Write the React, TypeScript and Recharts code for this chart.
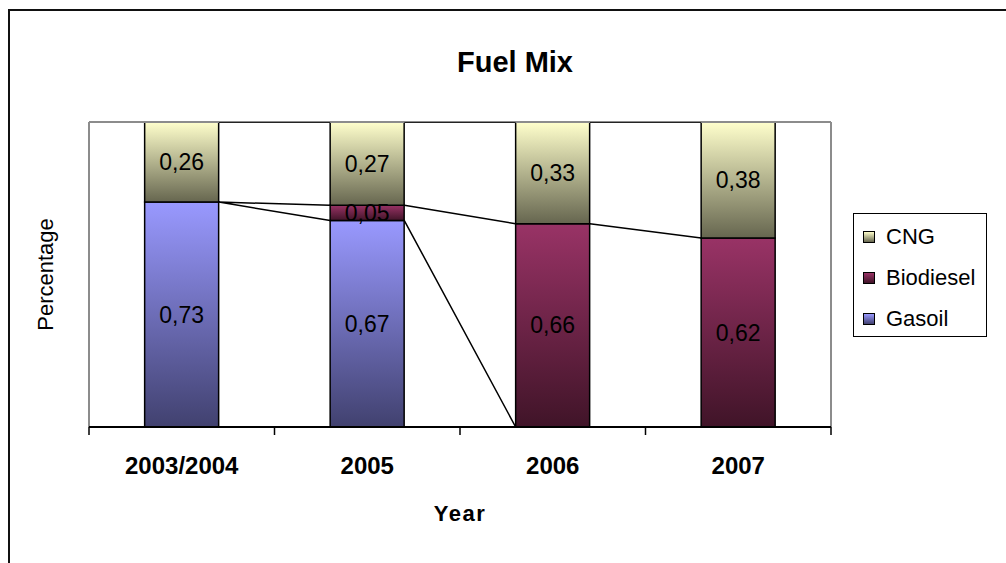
import React from 'react';
import {
  ComposedChart, Bar, Line, XAxis, YAxis, LabelList, Legend, ReferenceLine, Label,
} from 'recharts';

const YEARS = ['2003/2004', '2005', '2006', '2007'];
const GASOIL = [0.73, 0.67, 0, 0];
const BIODIESEL = [0, 0.05, 0.66, 0.62];
const CNG = [0.26, 0.27, 0.33, 0.38];

// stacked bottom-up
const SERIES = [
  { key: 'gasoil', name: 'Gasoil', values: GASOIL, top: '#9999ff', bottom: '#41416f' },
  { key: 'biodiesel', name: 'Biodiesel', values: BIODIESEL, top: '#993366', bottom: '#401428' },
  { key: 'cng', name: 'CNG', values: CNG, top: '#ffffcc', bottom: '#66664f' },
];

const data = YEARS.map((year, i) => ({
  year,
  gasoil: GASOIL[i],
  biodiesel: BIODIESEL[i],
  cng: CNG[i],
}));

// each bar takes the middle 40% of its band
const GAP = 0.3;

// series lines: top of every segment joined to the same segment of the next bar
const seriesLines: { x: number; y: number | null }[] = [];
for (let i = 0; i < YEARS.length - 1; i++) {
  const totA = SERIES.reduce((s, d) => s + d.values[i], 0);
  const totB = SERIES.reduce((s, d) => s + d.values[i + 1], 0);
  let cumA = 0;
  let cumB = 0;
  SERIES.forEach((s) => {
    cumA += s.values[i];
    cumB += s.values[i + 1];
    seriesLines.push({ x: i + 1 - GAP, y: cumA / totA });
    seriesLines.push({ x: i + 1 + GAP, y: cumB / totB });
    seriesLines.push({ x: i + 1, y: null });
  });
}

const fmt = (v: any) => (v ? Number(v).toFixed(2).replace('.', ',') : '');

// tick marks only, no text
const NoTickText = () => <g />;

function FuelLegend() {
  return (
    <div
      style={{
        width: 134,
        height: 124,
        boxSizing: 'border-box',
        border: '1.5px solid #000',
        background: '#fff',
        paddingTop: 2,
        paddingLeft: 9,
      }}
    >
      {[...SERIES].reverse().map((s) => (
        <div key={s.key} style={{ display: 'flex', alignItems: 'center', height: 41 }}>
          <span
            style={{
              width: 10,
              height: 10,
              border: '1px solid #000',
              background: `linear-gradient(${s.top}, ${s.bottom})`,
              marginRight: 11,
            }}
          />
          <span style={{ fontSize: 22, color: '#000' }}>{s.name}</span>
        </div>
      ))}
    </div>
  );
}

export default function App() {
  return (
    <div
      style={{
        position: 'fixed',
        left: 0,
        top: 0,
        width: 1006,
        height: 563,
        overflow: 'hidden',
        background: '#fff',
        fontFamily: '"Liberation Sans", Arial, sans-serif',
      }}
    >
      <div
        style={{
          position: 'absolute',
          left: 8,
          top: 9,
          width: 1200,
          height: 800,
          borderLeft: '2px solid #111',
          borderTop: '2px solid #111',
        }}
      />
      <div
        style={{
          position: 'absolute',
          left: 0,
          top: 46,
          width: 1030,
          textAlign: 'center',
          fontSize: 29,
          fontWeight: 'bold',
          color: '#000',
        }}
      >
        Fuel Mix
      </div>
      <div style={{ position: 'absolute', left: 0, top: 0 }}>
        <ComposedChart
          width={1006}
          height={563}
          data={data}
          stackOffset="expand"
          barCategoryGap={`${GAP * 100}%`}
          margin={{ top: 122, right: 175, left: 1, bottom: 36 }}
        >
          <defs>
            {SERIES.map((s) => (
              <linearGradient key={s.key} id={`grad-${s.key}`} x1="0" y1="0" x2="0" y2="1">
                <stop offset="0%" stopColor={s.top} />
                <stop offset="100%" stopColor={s.bottom} />
              </linearGradient>
            ))}
          </defs>
          {/* boundary axis: line and tick marks between categories */}
          <XAxis
            xAxisId="edge"
            type="number"
            dataKey="x"
            domain={[0, YEARS.length]}
            ticks={[0, 1, 2, 3, 4]}
            interval={0}
            allowDataOverflow
            height={1}
            tick={NoTickText}
            tickSize={8}
            axisLine={{ stroke: '#000', strokeWidth: 2 }}
            tickLine={{ stroke: '#000', strokeWidth: 1.5 }}
          />
          <XAxis
            xAxisId="year"
            dataKey="year"
            height={99}
            interval={0}
            axisLine={false}
            tickLine={false}
            tickMargin={23}
            tick={{ fill: '#000', fontSize: 24, fontWeight: 'bold' }}
          >
            <Label
              value="Year"
              position="insideBottom"
              offset={6}
              style={{ fill: '#000', fontSize: 22, fontWeight: 'bold', letterSpacing: 1.5 }}
            />
          </XAxis>
          <YAxis
            domain={[0, 1]}
            allowDataOverflow
            width={88}
            tick={false}
            axisLine={false}
            tickLine={false}
          >
            <Label
              value="Percentage"
              angle={-90}
              position="center"
              style={{ fill: '#000', fontSize: 22 }}
            />
          </YAxis>
          {/* plot area frame (bottom edge is the axis line) */}
          <ReferenceLine xAxisId="edge" x={0} stroke="#8c8c8c" strokeWidth={2} ifOverflow="visible" />
          <ReferenceLine xAxisId="edge" x={YEARS.length} stroke="#8c8c8c" strokeWidth={2} ifOverflow="visible" />
          <ReferenceLine xAxisId="edge" y={1} stroke="#8c8c8c" strokeWidth={2} ifOverflow="visible" />
          {SERIES.map((s) => (
            <Bar
              key={s.key}
              xAxisId="year"
              dataKey={s.key}
              name={s.name}
              stackId="fuel"
              fill={`url(#grad-${s.key})`}
              stroke="#000"
              strokeWidth={1.5}
              isAnimationActive={false}
            >
              <LabelList
                dataKey={s.key}
                position="center"
                formatter={fmt}
                style={{ fill: '#000', fontSize: 23 }}
              />
            </Bar>
          ))}
          <Line
            xAxisId="edge"
            data={seriesLines}
            dataKey="y"
            stroke="#000"
            strokeWidth={1.5}
            dot={false}
            activeDot={false}
            connectNulls={false}
            legendType="none"
            isAnimationActive={false}
          />
          <Legend
            layout="horizontal"
            verticalAlign="middle"
            align="center"
            content={<FuelLegend />}
            wrapperStyle={{ left: 853, top: 213, width: 134, height: 124 }}
          />
        </ComposedChart>
      </div>
    </div>
  );
}
